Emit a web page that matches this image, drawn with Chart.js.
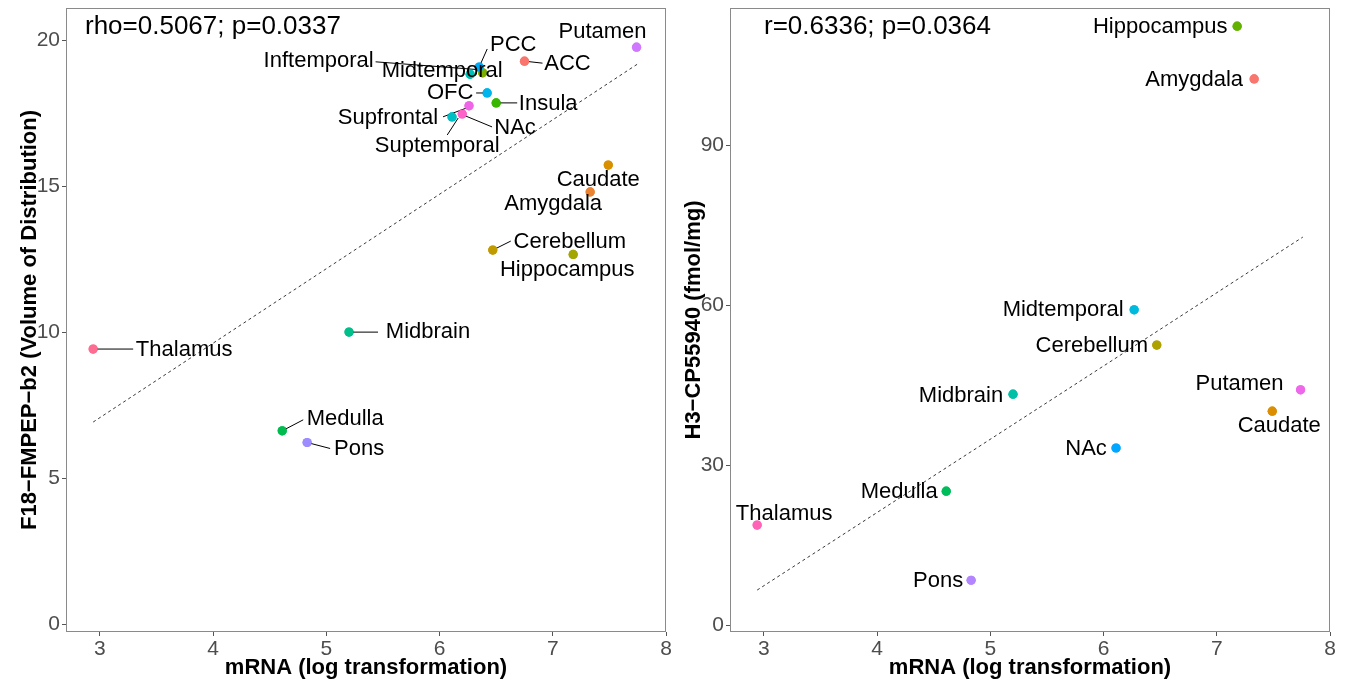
<!DOCTYPE html>
<html><head><meta charset="utf-8">
<script src="https://cdn.jsdelivr.net/npm/chart.js@4.4.0/dist/chart.umd.min.js"></script>
<style>
html,body{margin:0;padding:0;background:#fff;}
#wrap{position:relative;width:1345px;height:684px;overflow:hidden;}
.c{position:absolute;top:0;}
</style></head><body>
<div id="wrap">
<div class="c" style="left:0px"><canvas id="c1" width="672" height="684"></canvas></div>
<div class="c" style="left:672px"><canvas id="c2" width="673" height="684"></canvas></div>
</div>
<script>
// ---------- DATA ----------
const regionsLeft = ['ACC','Amygdala','Caudate','Cerebellum','Hippocampus','Inftemporal','Insula','Medulla','Midbrain','Midtemporal','NAc','OFC','PCC','Pons','Putamen','Supfrontal','Suptemporal','Thalamus'];
const mrnaLeft    = [6.75, 7.33, 7.49, 6.47, 7.18, 6.38, 6.50, 4.61, 5.20, 6.27, 6.11, 6.42, 6.35, 4.83, 7.74, 6.26, 6.20, 2.94];
const vtLeft      = [19.28,14.80,15.72,12.81,12.66,18.88,17.85,6.62,10.00,18.83,17.37,18.19,19.08,6.22,19.76,17.75,17.47,9.42];
const fitLeftX    = [2.94, 7.76];
const fitLeftY    = [6.92, 19.21];
const annotLeft   = 'rho=0.5067; p=0.0337';

const regionsRight = ['Amygdala','Caudate','Cerebellum','Hippocampus','Medulla','Midbrain','Midtemporal','NAc','Pons','Putamen','Thalamus'];
const mrnaRight    = [7.33, 7.49, 6.47, 7.18, 4.61, 5.20, 6.27, 6.11, 4.83, 7.74, 2.94];
const bindRight    = [102.4, 40.1, 52.5, 112.3, 25.1, 43.3, 59.1, 33.2, 8.4, 44.1, 18.75];
const fitRightX    = [2.94, 7.76];
const fitRightY    = [6.56, 72.75];
const annotRight   = 'r=0.6336; p=0.0364';

const xTicks      = [3, 4, 5, 6, 7, 8];
const yTicksLeft  = [0, 5, 10, 15, 20];
const yTicksRight = [0, 30, 60, 90];

const xTitle      = 'mRNA (log transformation)';
const yTitleLeft  = 'F18\u2212FMPEP\u2212b2 (Volume of Distribution)';
const yTitleRight = 'H3\u2212CP55940 (fmol/mg)';

// ---------- STYLES ----------
const colorsLeft = {ACC:'#F8766D',Amygdala:'#EA8331',Caudate:'#D89000',Cerebellum:'#C09B00',Hippocampus:'#A3A500',
  Inftemporal:'#7CAE00',Insula:'#39B600',Medulla:'#00BB4E',Midbrain:'#00BF8A',Midtemporal:'#00C0B8',NAc:'#00BFC4',
  OFC:'#00B4EC',PCC:'#00A9F6',Pons:'#9C8CFF',Putamen:'#CF78FF',Supfrontal:'#EE66E6',Suptemporal:'#FD62C8',Thalamus:'#FF6C91'};
const colorsRight = {Amygdala:'#F8766D',Caudate:'#DB8E00',Cerebellum:'#AEA200',Hippocampus:'#64B200',Medulla:'#00BD5C',
  Midbrain:'#00C1A7',Midtemporal:'#00BADE',NAc:'#00A6FF',Pons:'#B385FF',Putamen:'#EF67EB',Thalamus:'#FF63B6'};

// label layout: t = [dx, dy] of label centre from point (px); l = optional line [x1,y1,x2,y2] relative to point
const layoutLeft = {
  Putamen:{t:[-34,-15]}, PCC:{t:[34,-22], l:[0,0,8,-18]}, ACC:{t:[43,3], l:[0,0,18,2]},
  Inftemporal:{t:[-164,-12], l:[-2,-3,-107,-11]}, Midtemporal:{t:[-28,-3]},
  OFC:{t:[-37,0], l:[-11,0,-3,0]}, Insula:{t:[52,1], l:[0,0,21,0]},
  Supfrontal:{t:[-81,12], l:[-26,11,-2,2]}, Suptemporal:{t:[-25,32], l:[-15,21,-4,4]},
  NAc:{t:[63,11], l:[40,10,11,-2]}, Caudate:{t:[-10,15]}, Amygdala:{t:[-37,12]},
  Cerebellum:{t:[77,-8], l:[0,0,18,-9]}, Hippocampus:{t:[-6,15]}, Midbrain:{t:[79,0], l:[0,0,29,0]},
  Thalamus:{t:[91,1], l:[0,0,40,0]}, Medulla:{t:[63,-12], l:[0,0,21,-11]}, Pons:{t:[52,6], l:[0,0,23,6]}
};
const layoutRight = {
  Hippocampus:{t:[-77,1]}, Amygdala:{t:[-60,1]}, Midtemporal:{t:[-71,0]}, Cerebellum:{t:[-65,1]},
  Putamen:{t:[-61,-6]}, Caudate:{t:[7,15]}, Midbrain:{t:[-52,2]}, NAc:{t:[-30,1]},
  Medulla:{t:[-47,1]}, Thalamus:{t:[27,-11]}, Pons:{t:[-33,1]}
};

const FONT = "'Liberation Sans', Arial, Helvetica, sans-serif";

const decoPlugin = {
  id: 'deco',
  afterDraw(chart) {
    const o = chart.options.plugins.deco;
    const {ctx, chartArea: a, scales: {x, y}} = chart;
    ctx.save();
    ctx.strokeStyle = '#8a8a8a'; ctx.lineWidth = 1;
    ctx.strokeRect(a.left + 0.5, a.top + 0.5, a.right - a.left - 1, a.bottom - a.top - 1);
    ctx.strokeStyle = '#000'; ctx.lineWidth = 1;
    o.names.forEach((n, i) => {
      const L = o.layout[n]; if (!L || !L.l) return;
      const px = x.getPixelForValue(o.xs[i]), py = y.getPixelForValue(o.ys[i]);
      ctx.beginPath(); ctx.moveTo(px + L.l[0], py + L.l[1]); ctx.lineTo(px + L.l[2], py + L.l[3]); ctx.stroke();
    });
    o.names.forEach((n, i) => {
      const px = x.getPixelForValue(o.xs[i]), py = y.getPixelForValue(o.ys[i]);
      ctx.fillStyle = o.colors[n]; ctx.beginPath(); ctx.arc(px, py, 4.6, 0, Math.PI * 2); ctx.fill();
    });
    ctx.fillStyle = '#000'; ctx.font = '22px ' + FONT; ctx.textAlign = 'center'; ctx.textBaseline = 'middle';
    o.names.forEach((n, i) => {
      const L = o.layout[n]; if (!L) return;
      const px = x.getPixelForValue(o.xs[i]), py = y.getPixelForValue(o.ys[i]);
      ctx.fillText(n, px + L.t[0], py + L.t[1]);
    });
    ctx.font = '26px ' + FONT; ctx.textAlign = 'left';
    ctx.fillText(o.annot, a.left + o.annotDx, a.top + 19);
    ctx.restore();
  }
};

function zeroPad(s) { s.paddingTop = 0; s.paddingBottom = 0; s.paddingLeft = 0; s.paddingRight = 0; }

function makeChart(id, names, xs, ys, fx, fy, yTicks, ymin, ymax, ytitle, ytitlePad, yWidth, padRight, colors, layout, annot, annotDx) {
  const tickFont = {family: FONT, size: 21};
  const titleFont = {family: FONT, size: 22, weight: 'bold'};
  return new Chart(document.getElementById(id), {
    type: 'scatter',
    data: {datasets: [
      {data: names.map((n, i) => ({x: xs[i], y: ys[i]})), pointBackgroundColor: names.map(n => colors[n]),
       pointBorderWidth: 0, pointRadius: 4.6, order: 1},
      {data: fx.map((v, i) => ({x: v, y: fy[i]})), showLine: true, borderColor: '#222', borderWidth: 0.9,
       borderDash: [3, 3], pointRadius: 0, fill: false, order: 2}
    ]},
    options: {
      responsive: false, animation: false, devicePixelRatio: 1,
      layout: {padding: {top: 8, right: padRight, left: 0, bottom: 0}},
      plugins: {legend: {display: false}, tooltip: {enabled: false},
        deco: {names, xs, ys, colors, layout, annot, annotDx}},
      scales: {
        x: {type: 'linear', min: 2.70, max: 8.0,
          afterBuildTicks: s => { s.ticks = xTicks.map(v => ({value: v})); },
          afterFit: s => { s.height = 52; zeroPad(s); },
          grid: {display: true, drawOnChartArea: false, drawTicks: true, tickLength: 4, tickColor: '#555', color: '#555'},
          border: {display: false},
          ticks: {font: tickFont, color: '#4d4d4d', padding: 1, maxRotation: 0, autoSkip: false},
          title: {display: true, text: xTitle, font: titleFont, color: '#000', padding: {top: 0, bottom: 3}}
        },
        y: {type: 'linear', min: ymin, max: ymax,
          afterBuildTicks: s => { s.ticks = yTicks.map(v => ({value: v})); },
          afterFit: s => { s.width = yWidth; zeroPad(s); },
          grid: {display: true, drawOnChartArea: false, drawTicks: true, tickLength: 4, tickColor: '#555', color: '#555'},
          border: {display: false},
          ticks: {font: tickFont, color: '#4d4d4d', padding: 2, autoSkip: false},
          title: {display: true, text: ytitle, font: titleFont, color: '#000', padding: {top: ytitlePad, bottom: 0}}
        }
      }
    },
    plugins: [decoPlugin]
  });
}

makeChart('c1', regionsLeft, mrnaLeft, vtLeft, fitLeftX, fitLeftY, yTicksLeft, -0.27, 21.1,
  yTitleLeft, 17, 66, 6, colorsLeft, layoutLeft, annotLeft, 19);
makeChart('c2', regionsRight, mrnaRight, bindRight, fitRightX, fitRightY, yTicksRight, -1.3, 115.7,
  yTitleRight, 9, 58, 15, colorsRight, layoutRight, annotRight, 34);
</script>
</body></html>
